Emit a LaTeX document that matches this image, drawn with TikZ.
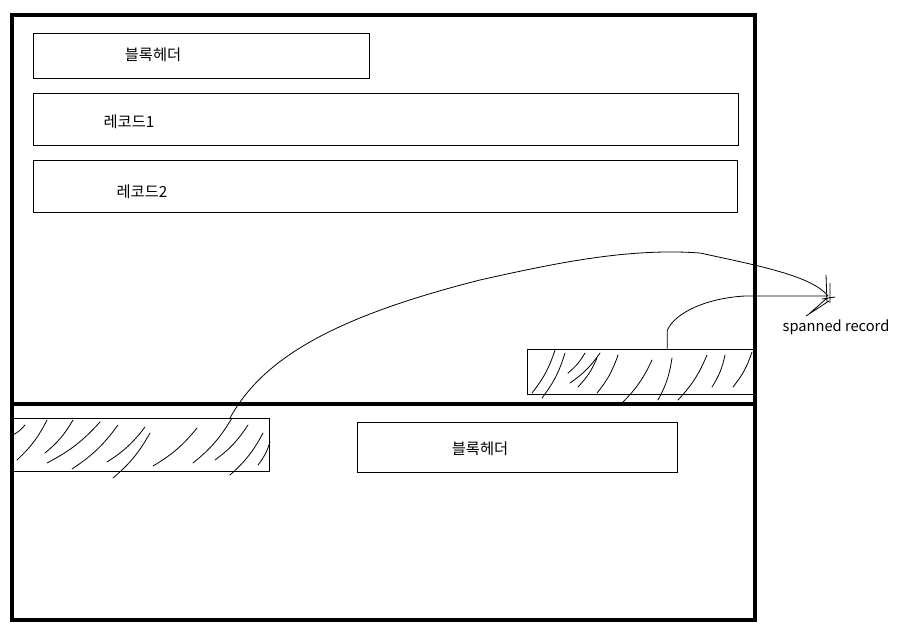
\documentclass[tikz,border=0pt]{standalone}
\usepackage{fontspec}
\setmainfont{Noto Sans CJK KR}
\usetikzlibrary{positioning, fit, calc}

\tikzset{
  blockframe/.style={draw, line width=2.5pt, inner sep=0pt},
  rec/.style={draw, line width=0.75pt, inner sep=0pt},
  lbl/.style={font=\fontsize{11.5}{13}\selectfont, inner sep=0pt},
  pen/.style={line width=0.6pt},
  scribble/.style={line width=0.6pt, line cap=round}
}

\begin{document}
\begin{tikzpicture}[x=0.75pt, y=-0.75pt]
        \useasboundingbox (0,0) rectangle (903,639);
        % two blocks
        \node[blockframe, fit={(12,15) (755,404)}] (blkA) {};
        \node[blockframe, fit={(12,404) (755,620)}] (blkB) {};
        % first block contents
        \node[rec, fit={(33,33) (369,78)}] (hdrA) {};
        \node[lbl] (hdrAtxt) at (153,55) {블록헤더};
        \node[rec, fit={(33,93) (738,145)}] (recA) {};
        \node[lbl] (recAtxt) at (129,122) {레코드1};
        \node[rec, fit={(33,160) (737,212)}] (recB) {};
        \node[lbl] (recBtxt) at (142,192) {레코드2};
        \node[rec, fit={(527,349) (753,394)}] (hatchR) {};
        % second block contents
        \node[rec, fit={(12,418) (269,471)}] (hatchL) {};
        \node[rec, fit={(357,422) (677,472)}] (hdrB) {};
        \node[lbl] (hdrBtxt) at (480,449) {블록헤더};
        % scribbles in the spanned parts
        \foreach \a/\b/\c/\d in {532/393/555/350, 542/398/565/353, 568/373/585/353, 570/383/600/353,
            578/387/597/358, 597/393/618/355, 622/403/652/360, 658/400/672/358, 678/400/707/355,
            712/387/725/355, 733/387/752/352}
          \draw[scribble] (\a,\b) to[bend right=10] (\c,\d);
        \foreach \a/\b/\c/\d in {13/435/25/425, 17/460/47/420, 45/453/73/420, 47/463/100/422,
            72/469/118/425, 107/462/145/427, 113/478/150/433, 153/466/197/428, 193/463/232/418,
            215/460/248/425, 230/475/263/433, 258/465/270/442}
          \draw[scribble] (\a,\b) to[bend right=10] (\c,\d);
        % connectors to the label
        \coordinate (tip) at (828,296);
        \coordinate (spanL) at (230,418);
        \coordinate (spanR) at ($(hatchR.north west)!0.62!(hatchR.north east)$);
        \draw[pen] (spanL) .. controls (262,360) and (330,318) .. (480,280)
            .. controls (560,262) and (630,248) .. (700,253)
            .. controls (760,266) and (812,276) .. (tip);
        \draw[pen] (spanR) -- ++(0,-18) .. controls (675,312) and (708,298) .. (745,296) -- (tip);
        \draw[pen] (826,275) -- (827,302) (830,283) -- (830,303)
            (806,316) -- (829,301) (810,313) -- (826,299) (822,299) -- (835,297);
        \node[font=\fontsize{11}{13}\selectfont, inner sep=0pt] (spanlbl) at (836,327) {spanned record};
    \end{tikzpicture}
\end{document}
